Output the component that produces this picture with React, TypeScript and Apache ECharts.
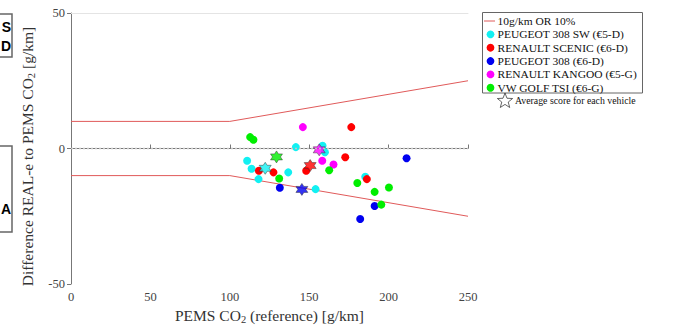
import React, { useEffect, useRef } from "react";
import * as echarts from "echarts";

// ---- data ----
const xTicks = [0, 50, 100, 150, 200, 250];
const yTicks = [-50, 0, 50];

const limitX = [0, 100, 250];
const limitUpper = [10, 10, 25];
const limitLower = [-10, -10, -25];

const cyanX = [110.9, 113.7, 118.1, 141.6, 136.8, 154.0, 158.4, 159.9, 185.3];
const cyanY = [-4.5, -7.5, -11.3, 0.5, -8.8, -15.0, 1.0, -1.4, -10.4];
const redX = [118.3, 127.5, 148.1, 172.7, 176.5, 186.3];
const redY = [-8.2, -8.8, -8.2, -3.2, 7.9, -11.3];
const blueX = [131.5, 182.1, 191.2, 211.3];
const blueY = [-14.5, -26.0, -21.2, -3.6];
const magentaX = [146.0, 158.2, 165.3];
const magentaY = [7.9, -4.5, -5.9];
const greenX = [112.8, 114.9, 131.1, 162.6, 180.3, 191.2, 200.2, 195.4];
const greenY = [4.2, 3.2, -11.1, -8.0, -12.7, -16.0, -14.4, -20.7];

const avgX = [122.3, 150.6, 145.4, 156.3, 129.4];
const avgY = [-7.3, -6.3, -15.1, -0.5, -3.1];

const vehicles = [
  "PEUGEOT 308 SW (€5-D)",
  "RENAULT SCENIC (€6-D)",
  "PEUGEOT 308 (€6-D)",
  "RENAULT KANGOO (€5-G)",
  "VW GOLF TSI (€6-G)",
];
const limitName = "10g/km OR 10%";
const avgLabel = "Average score for each vehicle";
const colors = ["#12f0f2", "#ff0000", "#0000f0", "#ff00ff", "#00ee00"];
const limitColor = "#e05a5a";

const zip = (xs: number[], ys: number[]) => xs.map((x, i) => [x, ys[i]]);

function hexagramPath(): string {
  const pts: string[] = [];
  for (let k = 0; k < 12; k++) {
    const a = ((-90 + k * 30) * Math.PI) / 180;
    const r = k % 2 === 0 ? 10 : 5.77;
    pts.push(`${(10 + r * Math.cos(a)).toFixed(2)} ${(10 + r * Math.sin(a)).toFixed(2)}`);
  }
  return "path://M" + pts.join(" L") + " Z";
}

function starPoints(cx: number, cy: number, R: number, r: number): number[][] {
  const pts: number[][] = [];
  for (let k = 0; k < 10; k++) {
    const a = ((-90 + k * 36) * Math.PI) / 180;
    const rr = k % 2 === 0 ? R : r;
    pts.push([cx + rr * Math.cos(a), cy + rr * Math.sin(a)]);
  }
  return pts;
}

const SERIF = "'Liberation Serif', 'DejaVu Serif', serif";
const SANS = "'Liberation Sans', Arial, sans-serif";

export default function App() {
  const ref = useRef<HTMLDivElement>(null);
  useEffect(() => {
    if (!ref.current) return;
    const chart = echarts.init(ref.current, null, { renderer: "svg" });
    const hex = hexagramPath();
    const pointSeries = vehicles.map((name, i) => ({
      name,
      type: "scatter",
      symbol: "circle",
      symbolSize: 8,
      itemStyle: { color: colors[i], opacity: 1 },
      data: zip([cyanX, redX, blueX, magentaX, greenX][i], [cyanY, redY, blueY, magentaY, greenY][i]),
      z: 3,
    }));
    const avgSeries = vehicles.map((name, i) => ({
      name: "avg " + name,
      type: "scatter",
      symbol: hex,
      symbolSize: 12,
      itemStyle: { color: colors[i], borderColor: "#333", borderWidth: 0.6 },
      data: [[avgX[i], avgY[i]]],
      z: 4,
    }));

    // legend drawn as graphic elements
    const legX = 482.5, legY = 12.5, legW = 160, legH = 80.5;
    const rowY0 = 21, rowStep = 13.35;
    const legText = (text: string, y: number) => ({
      type: "text",
      x: 497.5,
      y,
      scaleX: 1.045,
      style: { text, fontFamily: SERIF, fontSize: 11, fill: "#111", verticalAlign: "middle" },
      z: 11,
    });
    const legendEls: any[] = [
      {
        type: "rect",
        shape: { x: legX, y: legY, width: legW, height: legH },
        style: { fill: "#fff", stroke: "#666", lineWidth: 1 },
        silent: true,
        z: 10,
      },
      {
        type: "line",
        shape: { x1: 484, y1: rowY0, x2: 495, y2: rowY0 },
        style: { stroke: limitColor, lineWidth: 1 },
        silent: true,
        z: 11,
      },
      legText(limitName, rowY0),
    ];
    vehicles.forEach((name, i) => {
      const y = rowY0 + rowStep * (i + 1);
      legendEls.push({
        type: "circle",
        shape: { cx: 490.5, cy: y, r: 3.9 },
        style: { fill: colors[i] },
        silent: true,
        z: 11,
      });
      legendEls.push(legText(name, y));
    });
    legendEls.push(
      {
        type: "polygon",
        shape: { points: starPoints(505, 101, 8, 3.4) },
        style: { fill: "none", stroke: "#222", lineWidth: 0.7 },
        silent: true,
        z: 12,
      },
      {
        type: "text",
        x: 515,
        y: 100.5,
        style: { text: avgLabel, fontFamily: SERIF, fontSize: 9.8, fill: "#111", verticalAlign: "middle" },
        z: 11,
      }
    );

    const boxEls: any[] = [
      {
        type: "rect",
        shape: { x: -1, y: 14, width: 13, height: 43 },
        style: { fill: "#fff", stroke: "#666", lineWidth: 1.5 },
        silent: true,
      },
      {
        type: "text",
        x: 11,
        y: 27,
        style: { text: "S", fontFamily: SANS, fontWeight: "bold", fontSize: 14, fill: "#000", align: "right", verticalAlign: "middle" },
      },
      {
        type: "text",
        x: 11,
        y: 46,
        style: { text: "D", fontFamily: SANS, fontWeight: "bold", fontSize: 14, fill: "#000", align: "right", verticalAlign: "middle" },
      },
      {
        type: "rect",
        shape: { x: -1, y: 146, width: 13, height: 86 },
        style: { fill: "#fff", stroke: "#666", lineWidth: 1.5 },
        silent: true,
      },
      {
        type: "text",
        x: 11,
        y: 209,
        style: { text: "A", fontFamily: SANS, fontWeight: "bold", fontSize: 14, fill: "#000", align: "right", verticalAlign: "middle" },
      },
    ];

    const nameStyle = {
      fontFamily: SERIF,
      fontSize: 15.5,
      color: "#333",
      rich: { sub: { fontFamily: SERIF, fontSize: 10.5, color: "#333", padding: [8, 0, 0, 0] } },
    };

    chart.setOption({
      animation: false,
      grid: { left: 71, right: 211, top: 13, bottom: 42, outerBoundsMode: "none", containLabel: false },
      xAxis: [
        {
          type: "value",
          min: 0,
          max: 250,
          interval: 50,
          name: "PEMS CO{sub|2} (reference) [g/km]",
          nameLocation: "middle",
          nameGap: 20,
          nameTextStyle: nameStyle,
          axisLine: { lineStyle: { color: "#777", width: 1 } },
          axisTick: { inside: true, length: 4, lineStyle: { color: "#777" } },
          axisLabel: {
            fontFamily: SERIF,
            fontSize: 12.5,
            color: "#444",
            margin: 6,
            formatter: (v: number) => (xTicks.includes(v) ? String(v) : ""),
          },
          splitLine: { show: false },
        },
        {
          type: "value",
          position: "top",
          min: 0,
          max: 250,
          axisLine: { show: true, lineStyle: { color: "#e4e4e4", width: 1 } },
          axisTick: { show: false },
          axisLabel: { show: false },
          splitLine: { show: false },
        },
      ],
      yAxis: {
        type: "value",
        min: -50,
        max: 50,
        interval: 50,
        name: "Difference REAL-e to PEMS CO{sub|2} [g/km]",
        nameLocation: "middle",
        nameGap: 31,
        nameTextStyle: { ...nameStyle, padding: [0, 16, 0, 0] },
        axisLine: { show: true, lineStyle: { color: "#777", width: 1 } },
        axisTick: { show: true, inside: false, length: 4, lineStyle: { color: "#777" } },
        axisLabel: {
          fontFamily: SERIF,
          fontSize: 12.5,
          color: "#444",
          margin: 6,
          formatter: (v: number) => (yTicks.includes(v) ? String(v) : ""),
        },
        splitLine: { show: false },
      },
      series: [
        {
          name: limitName,
          type: "line",
          symbol: "none",
          lineStyle: { color: limitColor, width: 1 },
          itemStyle: { color: limitColor },
          data: zip(limitX, limitUpper),
          z: 2,
          markLine: {
            silent: true,
            symbol: "none",
            label: { show: false },
            lineStyle: { color: "#c4c4c4", type: [2, 2], width: 1.4 },
            data: [{ yAxis: 0 }],
          },
        },
        {
          name: limitName,
          type: "line",
          symbol: "none",
          lineStyle: { color: limitColor, width: 1 },
          itemStyle: { color: limitColor },
          data: zip(limitX, limitLower),
          z: 2,
        },
        ...pointSeries,
        ...avgSeries,
      ],
      graphic: [...legendEls, ...boxEls],
    });
    return () => chart.dispose();
  }, []);
  return <div ref={ref} style={{ width: 679, height: 326, position: "absolute", left: 0, top: 0 }} />;
}
